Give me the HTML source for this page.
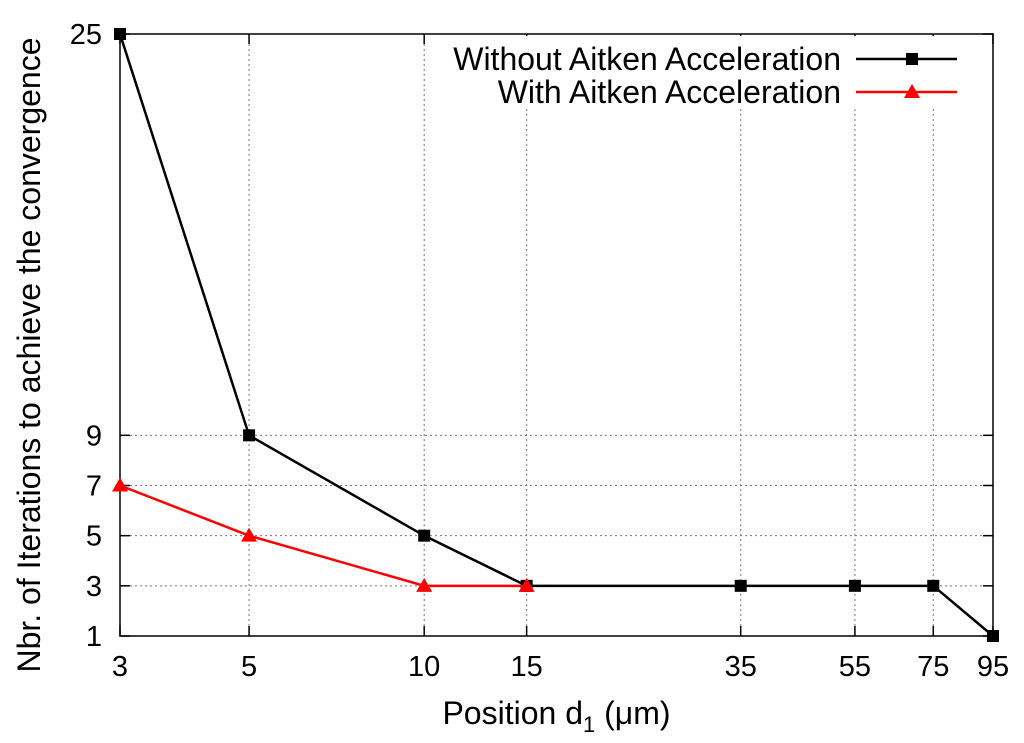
<!DOCTYPE html>
<html><head><meta charset="utf-8"><style>
html,body{margin:0;padding:0;background:#fff;}
svg{display:block;font-family:"Liberation Sans",sans-serif;}
</style></head><body>
<svg id="chart" width="1024" height="743" viewBox="0 0 1024 743" xmlns="http://www.w3.org/2000/svg"></svg>
<script>
const xCategories = [3, 5, 10, 15, 35, 55, 75, 95];
const yTicks = [1, 3, 5, 7, 9, 25];
const withoutX = [3, 5, 10, 15, 35, 55, 75, 95];
const withoutY = [25, 9, 5, 3, 3, 3, 3, 1];
const withX = [3, 5, 10, 15];
const withY = [7, 5, 3, 3];

const L=120,R=993,T=34,B=636;
const svg=document.getElementById('chart');
const NS='http://www.w3.org/2000/svg';
const lmin=Math.log(3),lmax=Math.log(95);
function xs(v){return L+(Math.log(v)-lmin)/(lmax-lmin)*(R-L);}
function ys(v){return B-(v-1)/(25-1)*(B-T);}
function mk(tag,attrs,parent){const e=document.createElementNS(NS,tag);for(const k in attrs)e.setAttribute(k,attrs[k]);(parent||svg).appendChild(e);return e;}

xCategories.forEach(v=>{
  const x=xs(v);
  if(v!==3&&v!==95){
    const g=mk('line',{x1:x,x2:x,y1:T,y2:B,stroke:'#777','stroke-width':1,'stroke-dasharray':'2,3'});
    
    
  }
  const t1=mk('line',{x1:x,x2:x,y1:B,y2:B-10,stroke:'#000','stroke-width':1.5});
  
  
  const t2=mk('line',{x1:x,x2:x,y1:T,y2:T+10,stroke:'#000','stroke-width':1.5});
  
  
  const lb=mk('text',{x:x,y:B+40,'text-anchor':'middle','font-size':29,fill:'#000'});
  lb.textContent=v;
  
  
});
yTicks.forEach(v=>{
  const y=ys(v);
  if(v!==1&&v!==25){
    const g=mk('line',{x1:L,x2:R,y1:y,y2:y,stroke:'#777','stroke-width':1,'stroke-dasharray':'2,3'});
    
    
  }
  const t1=mk('line',{x1:L,x2:L+10,y1:y,y2:y,stroke:'#000','stroke-width':1.5});
  
  
  const t2=mk('line',{x1:R,x2:R-10,y1:y,y2:y,stroke:'#000','stroke-width':1.5});
  
  
  const lb=mk('text',{x:L-18,y:y+10,'text-anchor':'end','font-size':29,fill:'#000'});
  lb.textContent=v;
  
  
});

const lbg=mk('rect',{x:450,y:T+2,width:R-452,height:72,fill:'#fff'});



const border=mk('rect',{x:L,y:T,width:R-L,height:B-T,fill:'none',stroke:'#000','stroke-width':1.5});



function series(xa,ya,color,marker,name){
  const pts=xa.map((x,i)=>xs(x)+','+ys(ya[i])).join(' ');
  const pl=mk('polyline',{points:pts,fill:'none',stroke:color,'stroke-width':2.5});
  
  
  xa.forEach((x,i)=>{
    const px=xs(x),py=ys(ya[i]);
    let m;
    if(marker==='sq') m=mk('rect',{x:px-6,y:py-6,width:12,height:12,fill:color});
    else m=mk('polygon',{points:`${px},${py-8} ${px-8},${py+6} ${px+8},${py+6}`,fill:color});
    
    
  });
}
series(withoutX,withoutY,'#000','sq','without-aitken');
series(withX,withY,'#f00','tri','with-aitken');

const lg=mk('g',{});


const t1=mk('text',{x:841,y:70,'text-anchor':'end','font-size':32,fill:'#000'},lg);
t1.textContent='Without Aitken Acceleration';


const t2=mk('text',{x:841,y:103,'text-anchor':'end','font-size':32,fill:'#000'},lg);
t2.textContent='With Aitken Acceleration';


const s1=mk('line',{x1:856,x2:957,y1:59,y2:59,stroke:'#000','stroke-width':2.5},lg);


const m1=mk('rect',{x:906,y:53,width:12,height:12,fill:'#000'},lg);


const s2=mk('line',{x1:856,x2:957,y1:92,y2:92,stroke:'#f00','stroke-width':2.5},lg);


const m2=mk('polygon',{points:'912,84 904,98 920,98',fill:'#f00'},lg);



const xt=mk('text',{x:(L+R)/2,y:724,'text-anchor':'middle','font-size':32,fill:'#000'});
xt.innerHTML='Position d<tspan dy="8" font-size="22">1</tspan><tspan dy="-8"> (μm)</tspan>';


const yt=mk('text',{x:0,y:0,'text-anchor':'middle','font-size':32,fill:'#000',transform:`translate(40,${(T+B)/2+20}) rotate(-90)`});
yt.textContent='Nbr. of Iterations to achieve the convergence';


</script>
</body></html>
